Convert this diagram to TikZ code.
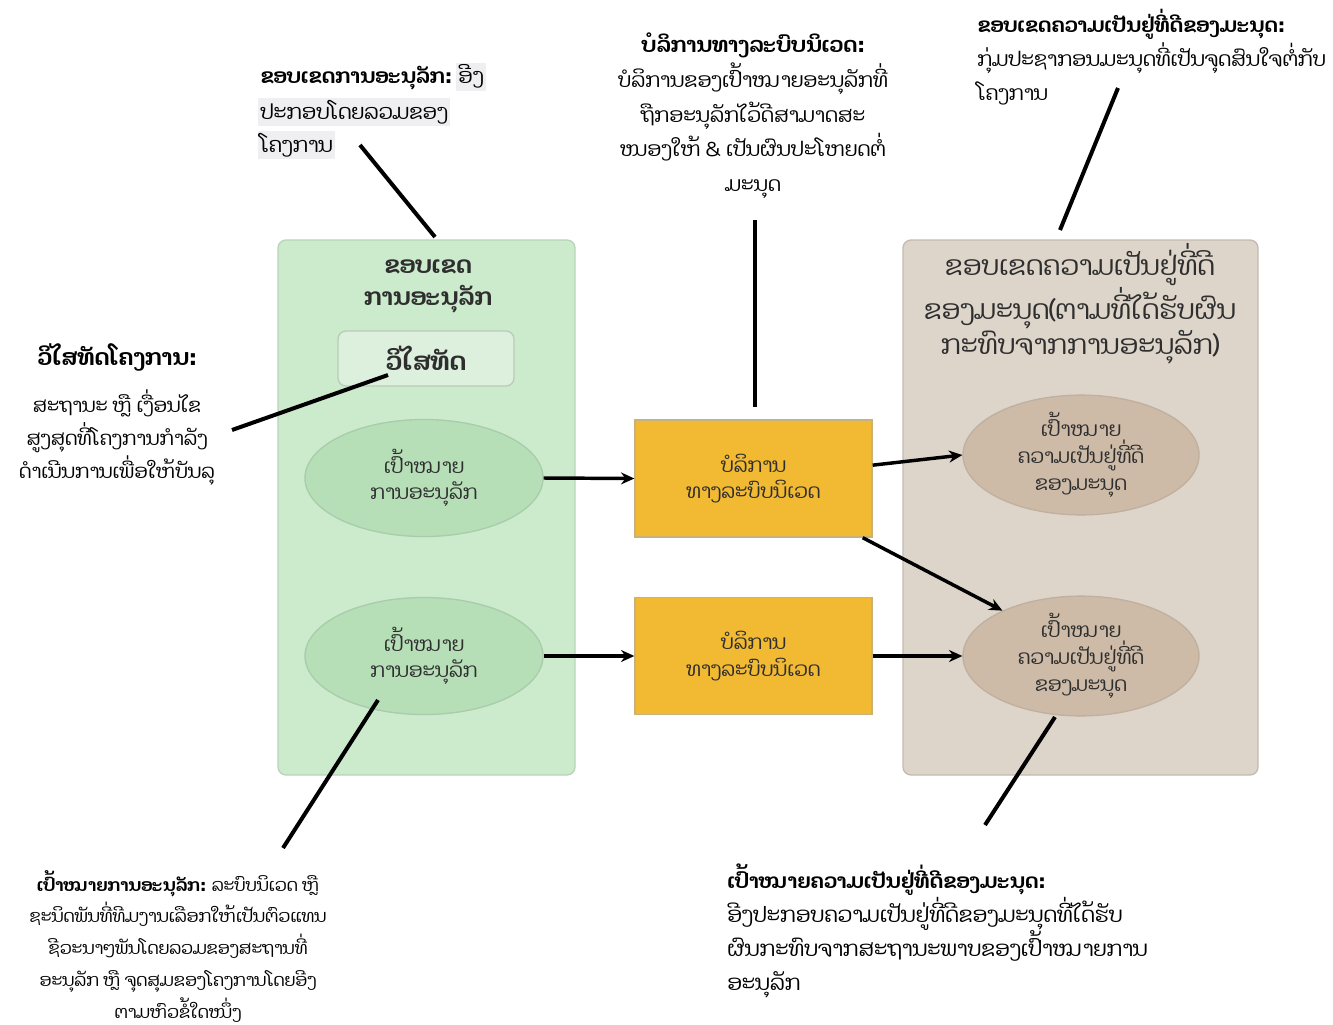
\documentclass[tikz,border=0pt]{standalone}
\usepackage{fontspec}
\newfontfamily\lao[Script=Lao]{Dhyana}
\usetikzlibrary{shapes.geometric,arrows.meta}
\definecolor{gzfill}{HTML}{CCEACC}
\definecolor{gzdraw}{HTML}{B9D3B9}
\definecolor{gefill}{HTML}{B6DFB8}
\definecolor{gedraw}{HTML}{A9CCAA}
\definecolor{vifill}{HTML}{DDF0DD}
\definecolor{vidraw}{HTML}{B8CCB8}
\definecolor{orfill}{HTML}{F2BA33}
\definecolor{ordraw}{HTML}{C9B27A}
\definecolor{bzfill}{HTML}{DDD4CA}
\definecolor{bzdraw}{HTML}{C4BAB0}
\definecolor{befill}{HTML}{CDBBA8}
\definecolor{bedraw}{HTML}{BFB0A0}
\definecolor{txt}{HTML}{2E2E2E}
\definecolor{hl}{HTML}{EFEFF1}
\def\px{0.75pt}
\newcommand\fs[2]{\fontsize{#1}{#2}\selectfont}
\begin{document}
\begin{tikzpicture}[x=0.75pt,y=-0.75pt,
  every node/.style={font=\lao},
  zone/.style={rounded corners=6pt,line width=1pt,inner sep=0pt},
  goalg/.style={ellipse,draw=gedraw,fill=gefill,line width=1pt,inner sep=0pt,align=center,text=txt,font=\lao\fs{15}{20}},
  goalb/.style={ellipse,draw=bedraw,fill=befill,line width=1pt,inner sep=0pt,align=center,text=txt,font=\lao\fs{15}{20}},
  svc/.style={rectangle,draw=ordraw,fill=orfill,line width=1pt,inner sep=0pt,align=center,text=txt,minimum width={237*\px},minimum height={117*\px},font=\lao\fs{15}{20}},
  arr/.style={-{Stealth[length=10pt,width=9pt]},line width=2.6pt},
  callout/.style={line width=3pt},
  annot/.style={inner sep=0pt}
]
\useasboundingbox (0,0) rectangle (1333,1024);

% zones
\node[zone,draw=gzdraw,fill=gzfill,minimum width={297*\px},minimum height={535*\px}] (gz) at (426.5,507.5) {};
\node[zone,draw=bzdraw,fill=bzfill,minimum width={355*\px},minimum height={535*\px}] (bz) at (1080.5,507.5) {};
\node[align=center,text=txt,font=\lao\bfseries\fs{18}{24}] (gztitle) at (428,286) {ຂອບເຂດ\\ການອະນຸລັກ};
\node[zone,draw=vidraw,fill=vifill,minimum width={176*\px},minimum height={55*\px},text=txt,font=\lao\bfseries\fs{19}{22}] (vision) at (426,358.5) {ວິໄສທັດ};
\node[align=center,text=txt,font=\lao\fs{20.4}{24.75}] (bztitle) at (1080,304) {ຂອບເຂດຄວາມເປັນຢູ່ທີ່ດີ\\ຂອງມະນຸດ(ຕາມທີ່ໄດ້ຮັບຜົນ\\ກະທົບຈາກການອະນຸລັກ)};

% goals and services
\node[goalg,minimum width={238*\px},minimum height={117*\px}] (g1) at (424,478) {ເປົ້າໝາຍ\\ການອະນຸລັກ};
\node[goalg,minimum width={238*\px},minimum height={117*\px}] (g2) at (424,656) {ເປົ້າໝາຍ\\ການອະນຸລັກ};
\node[svc] (s1) at (753.5,478.5) {ບໍລິການ\\ທາງລະບົບນິເວດ};
\node[svc] (s2) at (753.5,656) {ບໍລິການ\\ທາງລະບົບນິເວດ};
\node[goalb,minimum width={236*\px},minimum height={110*\px}] (h1) at (1081,455) {ເປົ້າໝາຍ\\ຄວາມເປັນຢູ່ທີ່ດີ\\ຂອງມະນຸດ};
\node[goalb,minimum width={236*\px},minimum height={115*\px}] (h2) at (1081,656) {ເປົ້າໝາຍ\\ຄວາມເປັນຢູ່ທີ່ດີ\\ຂອງມະນຸດ};

\draw[arr] (g1.east) -- (s1.west);
\draw[arr] (g2.east) -- (s2.west);
\draw[arr] ([yshift=10pt]s1.east) -- (h1.west);
\draw[arr] ([xshift=-7.5pt]s1.south east) -- (h2.150);
\draw[arr] (s2.east) -- (h2.west);

% annotations
\node[annot,anchor=base west,font=\lao\bfseries\fs{15.4}{20}] (a1b) at (260,84) {ຂອບເຂດການອະນຸລັກ:};
\node[annot,anchor=base west,fill=hl,inner sep=1.5pt,font=\lao\fs{15.6}{20}] (a1c) at ([xshift=3pt]a1b.base east) {ອີງ};
\node[annot,anchor=base west,fill=hl,inner sep=1.5pt,font=\lao\fs{15.6}{20}] (a1d) at (258,119) {ປະກອບໂດຍລວມຂອງ};
\node[annot,anchor=base west,fill=hl,inner sep=1.5pt,font=\lao\fs{15.6}{20}] (a1e) at (258,152) {ໂຄງການ};

\node[annot,anchor=north,align=center,font=\lao\fs{15.2}{26}] (a2) at (753,33) {{\bfseries\fs{16}{26}ບໍລິການທາງລະບົບນິເວດ:}\\ບໍລິການຂອງເປົ້າໝາຍອະນຸລັກທີ່\\ຖືກອະນຸລັກໄວ້ດີສາມາດສະ\\ໜອງໃຫ້ \& ເປັນຜົນປະໂຫຍດຕໍ່\\ມະນຸດ};

\node[annot,anchor=north west,align=left,font=\lao\fs{15.2}{25.5}] (a3) at (977,9) {\textbf{ຂອບເຂດຄວາມເປັນຢູ່ທີ່ດີຂອງມະນຸດ:}\\ກຸ່ມປະຊາກອນມະນຸດທີ່ເປັນຈຸດສົນໃຈຕໍ່ກັບ\\ໂຄງການ};

\node[annot,anchor=base,font=\lao\bfseries\fs{17}{20}] (a4b) at (117,365) {ວິໄສທັດໂຄງການ:};
\node[annot,anchor=north,align=center,font=\lao\fs{14.6}{24.75}] (a4) at (117,389) {ສະຖານະ ຫຼື ເງື່ອນໄຂ\\ສູງສຸດທີ່ໂຄງການກຳລັງ\\ດຳເນີນການເພື່ອໃຫ້ບັນລຸ};

\node[annot,anchor=north,align=center,font=\lao\fs{13}{23.8}] (a5) at (178,870) {\textbf{ເປົ້າໝາຍການອະນຸລັກ:} ລະບົບນິເວດ ຫຼື\\ຊະນິດພັນທີ່ທີມງານເລືອກໃຫ້ເປັນຕົວແທນ\\ຊີວະນາໆພັນໂດຍລວມຂອງສະຖານທີ່\\ອະນຸລັກ ຫຼື ຈຸດສຸມຂອງໂຄງການໂດຍອີງ\\ຕາມຫົວຂໍ້ໃດໜຶ່ງ};

\node[annot,anchor=north west,align=left,font=\lao\fs{16}{25.5}] (a6) at (727,864) {{\bfseries\fs{15.3}{25.5}ເປົ້າໝາຍຄວາມເປັນຢູ່ທີ່ດີຂອງມະນຸດ:}\\ອີງປະກອບຄວາມເປັນຢູ່ທີ່ດີຂອງມະນຸດທີ່ໄດ້ຮັບ\\ຜົນກະທົບຈາກສະຖານະພາບຂອງເປົ້າໝາຍການ\\ອະນຸລັກ};

% callout lines
\coordinate (c1a) at (360,145); \coordinate (c1b) at (435,237);
\coordinate (c2a) at (755,220); \coordinate (c2b) at (755,407);
\coordinate (c3a) at (1118,88); \coordinate (c3b) at (1060,230);
\coordinate (c4a) at (232,430); \coordinate (c4b) at (388,375);
\coordinate (c5a) at (378,700); \coordinate (c5b) at (283,848);
\coordinate (c6a) at (1055,717); \coordinate (c6b) at (985,825);
\draw[callout] (c1a) -- (c1b);
\draw[callout] (c2a) -- (c2b);
\draw[callout] (c3a) -- (c3b);
\draw[callout] (c4a) -- (c4b);
\draw[callout] (c5a) -- (c5b);
\draw[callout] (c6a) -- (c6b);
\end{tikzpicture}
\end{document}
